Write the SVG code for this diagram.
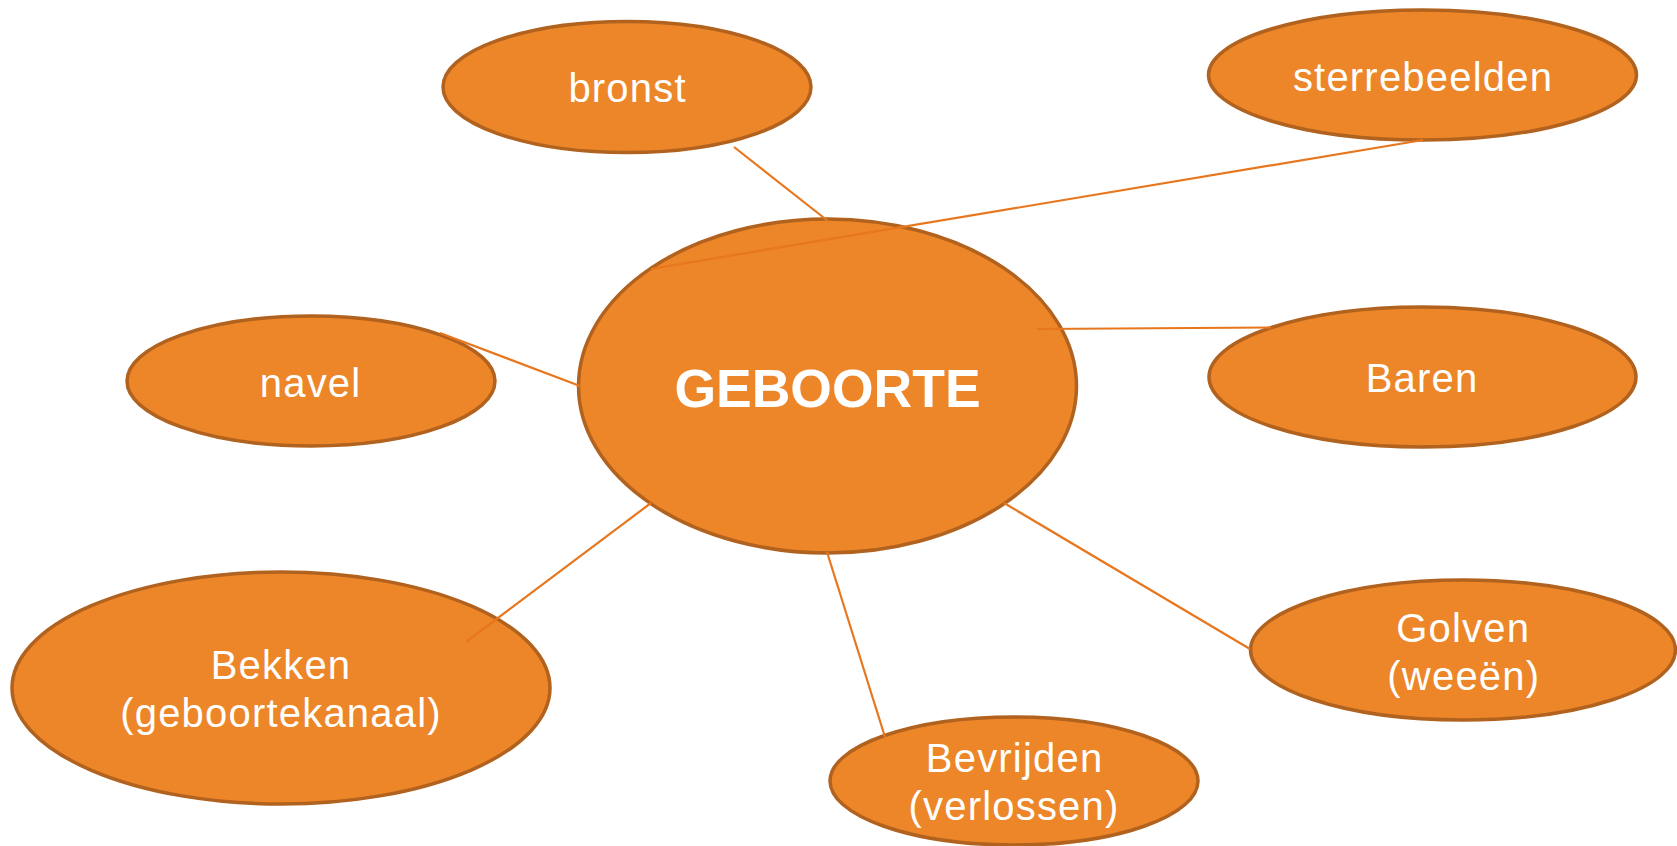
<svg xmlns="http://www.w3.org/2000/svg" width="1677" height="846" viewBox="0 0 1677 846">
<style>
.node ellipse{fill:#ED8529;stroke:#B0621E;stroke-width:3.5}
.lbl{font-family:"Liberation Sans",Arial,sans-serif;font-size:40px;fill:#FFFFFF;text-anchor:middle;letter-spacing:1.2px}
.main{font-family:"Liberation Sans",Arial,sans-serif;font-size:53.5px;font-weight:bold;fill:#FFFFFF;text-anchor:middle}
#connectors line{stroke:#E8761D;stroke-width:2.2;fill:none}
</style>
<rect width="1677" height="846" fill="#FFFFFF"/>
<g id="node-geboorte" class="node">
<ellipse cx="827.5" cy="386" rx="249" ry="167"/>
<text class="main" x="827.5" y="406.5">GEBOORTE</text>
</g>
<g id="node-bronst" class="node">
<ellipse cx="627" cy="87" rx="184" ry="65.5"/>
<text class="lbl" x="627.6" y="101.5">bronst</text>
</g>
<g id="node-sterrebeelden" class="node">
<ellipse cx="1422.5" cy="75" rx="214" ry="65"/>
<text class="lbl" x="1423" y="90.5">sterrebeelden</text>
</g>
<g id="node-navel" class="node">
<ellipse cx="311" cy="381" rx="184" ry="65"/>
<text class="lbl" x="310.6" y="397">navel</text>
</g>
<g id="node-baren" class="node">
<ellipse cx="1422.5" cy="377" rx="213.5" ry="70"/>
<text class="lbl" x="1422" y="391.5">Baren</text>
</g>
<g id="node-bekken" class="node">
<ellipse cx="281" cy="688" rx="269" ry="116"/>
<text class="lbl" x="281" y="679">Bekken</text>
<text class="lbl" x="281" y="726.5">(geboortekanaal)</text>
</g>
<g id="node-bevrijden" class="node">
<ellipse cx="1014" cy="781" rx="184" ry="64"/>
<text class="lbl" x="1014.6" y="771.5">Bevrijden</text>
<text class="lbl" x="1014" y="820">(verlossen)</text>
</g>
<g id="node-golven" class="node">
<ellipse cx="1463" cy="650" rx="212.5" ry="70"/>
<text class="lbl" x="1463.2" y="641.5">Golven</text>
<text class="lbl" x="1463.8" y="690">(weeën)</text>
</g>
<g id="connectors">
<line x1="734" y1="147" x2="828" y2="221"/>
<line x1="1423" y1="140" x2="651" y2="269"/>
<line x1="440" y1="333" x2="580" y2="386"/>
<line x1="1037" y1="329" x2="1271" y2="327.5"/>
<line x1="466" y1="642" x2="651" y2="503"/>
<line x1="827" y1="552" x2="885" y2="737"/>
<line x1="1004" y1="503" x2="1250" y2="649"/>
</g>
</svg>
